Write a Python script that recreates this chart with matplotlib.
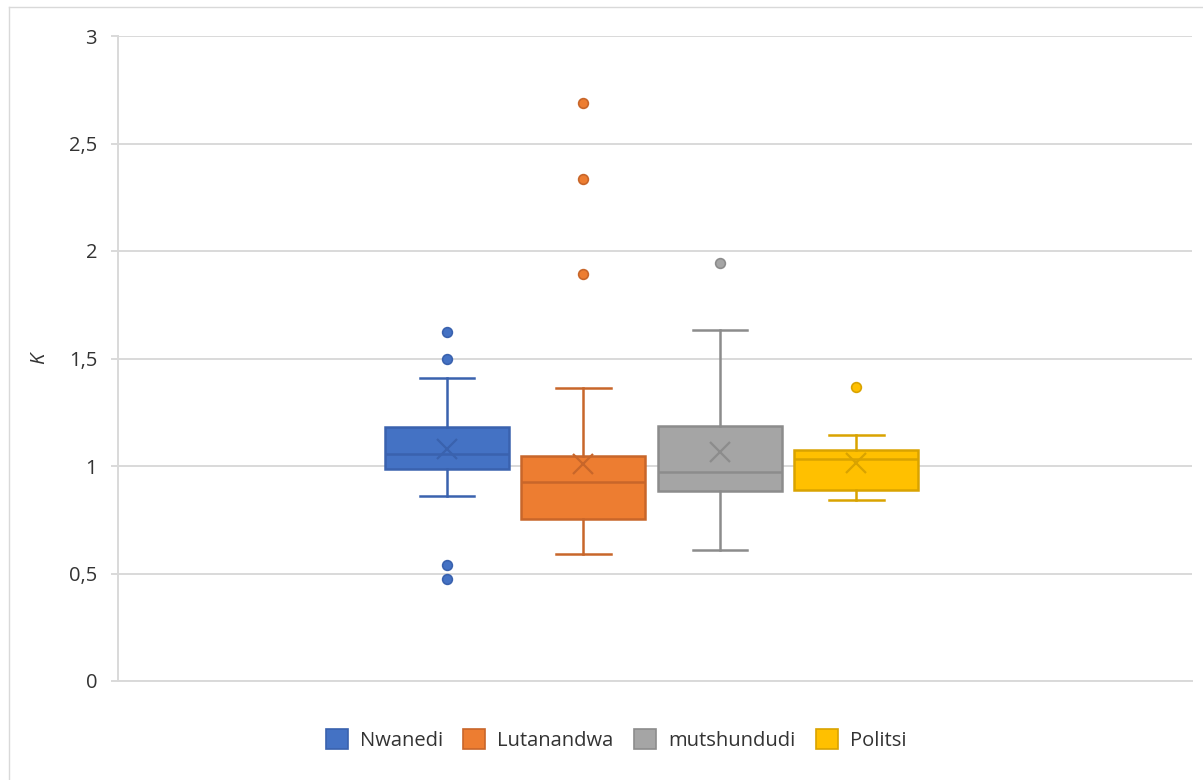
import matplotlib
matplotlib.use("Agg")
import matplotlib.pyplot as plt
from matplotlib.patches import Patch
from matplotlib.lines import Line2D

names = ["Nwanedi", "Lutanandwa", "mutshundudi", "Politsi"]
q1 = [0.986, 0.753, 0.884, 0.890]
median = [1.056, 0.924, 0.971, 1.033]
q3 = [1.183, 1.048, 1.186, 1.073]
whis_lo = [0.862, 0.589, 0.608, 0.842]
whis_hi = [1.409, 1.363, 1.634, 1.144]
means = [1.078, 1.011, 1.065, 1.015]
fliers = [[1.622, 1.498, 0.538, 0.476], [2.688, 2.335, 1.893], [1.943], [1.367]]
yticks = [0, 0.5, 1, 1.5, 2, 2.5, 3]
ytick_labels = ["0", "0,5", "1", "1,5", "2", "2,5", "3"]

fills = ["#4472C4", "#ED7D31", "#A5A5A5", "#FFC000"]
edges = ["#3A62AE", "#C8662A", "#8C8C8C", "#D9A300"]

plt.rcParams['font.family'] = ['Open Sans', 'DejaVu Sans']
fig = plt.figure(figsize=(12.03, 7.8), dpi=100)
ax = fig.add_axes([118/1203, 1-681/780, (1192-118)/1203, (681-36)/780])

for i in range(len(names)):
    stats = [dict(q1=q1[i], med=median[i], q3=q3[i], whislo=whis_lo[i],
                  whishi=whis_hi[i], mean=means[i], fliers=fliers[i], label=names[i])]
    ec = edges[i]
    ax.bxp(stats, positions=[i], widths=0.91, patch_artist=True, showmeans=True,
           boxprops=dict(facecolor=fills[i], edgecolor=ec, linewidth=1.8),
           medianprops=dict(color=ec, linewidth=1.8),
           whiskerprops=dict(color=ec, linewidth=1.8),
           capprops=dict(color=ec, linewidth=1.8),
           capwidths=0.4,
           meanprops=dict(marker='x', markeredgecolor=ec, markersize=14, markeredgewidth=1.6),
           flierprops=dict(marker='o', markerfacecolor=fills[i], markeredgecolor=ec,
                           markersize=7, markeredgewidth=1.2),
           zorder=3)

ax.set_xlim(-2.41, 5.46)
ax.set_ylim(0, 3)
ax.set_yticks(yticks)
ax.set_yticklabels(ytick_labels, fontsize=14.5, color="#333333")
ax.set_xticks([])
ax.yaxis.grid(True, color="#D9D9D9", linewidth=1.4, zorder=0)
ax.set_axisbelow(True)
for s in ["top", "right"]:
    ax.spines[s].set_visible(False)
for s in ["left", "bottom"]:
    ax.spines[s].set_color("#D9D9D9")
    ax.spines[s].set_linewidth(1.4)
ax.tick_params(axis='y', length=5, color="#D9D9D9", width=1.4, pad=10)
ax.set_ylabel("K", fontsize=14.5, style='italic', color="#333333", labelpad=14)

handles = [Patch(facecolor=fills[i], edgecolor=edges[i], linewidth=1.2) for i in range(len(names))]
fig.legend(handles, names, loc='center', bbox_to_anchor=(616/1203, 1-740/780), ncol=4,
           frameon=False, fontsize=14.5, handlelength=1.1, handleheight=1.1,
           columnspacing=1.0, handletextpad=0.6, labelcolor="#333333")

fig.add_artist(Line2D([9/1203, 9/1203], [0, 1-7/780], color="#D9D9D9", linewidth=1.0))
fig.add_artist(Line2D([9/1203, 1], [1-7/780, 1-7/780], color="#D9D9D9", linewidth=1.0))

fig.savefig("out.png", dpi=100)
